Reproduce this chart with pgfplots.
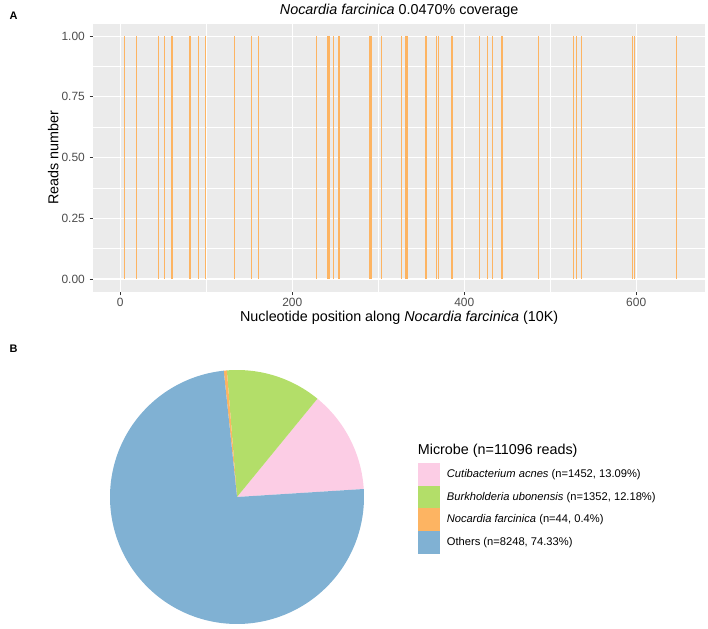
\documentclass[border=0pt]{standalone}
\usepackage{fontspec}
\setmainfont{Liberation Sans}
\usepackage{pgfplots}
\pgfplotsset{compat=1.18}
\definecolor{setorange}{HTML}{FDB462}
\definecolor{setpink}{HTML}{FCCDE5}
\definecolor{setgreen}{HTML}{B3DE69}
\definecolor{setblue}{HTML}{80B1D3}
\definecolor{panelbg}{HTML}{EBEBEB}
\definecolor{grey30}{HTML}{4D4D4D}
\definecolor{grey20}{HTML}{333333}
\newcommand{\fs}[1]{\fontsize{#1}{#1}\selectfont}
\begin{document}
\begin{tikzpicture}
\path[use as bounding box] (0,0) rectangle (708bp,629bp);
% ---------------- Panel A ----------------
\begin{axis}[
  at={(93.3bp,337.3bp)}, anchor=south west,
  scale only axis, width=611.7bp, height=267.7bp,
  xmin=-31.4, xmax=680, ymin=-0.052, ymax=1.05,
  axis background/.style={fill=panelbg},
  axis line style={draw=none},
  xtick={0,200,400,600}, xticklabels={0,200,400,600},
  minor xtick={100,300,500},
  ytick={0,0.25,0.5,0.75,1}, yticklabels={0.00,0.25,0.50,0.75,1.00},
  minor ytick={0.125,0.375,0.625,0.875},
  grid=both,
  major grid style={white, line width=1.2bp},
  minor grid style={white, line width=0.6bp},
  tick align=outside, major tick length=3.8bp, minor tick length=0pt,
  major tick style={draw=grey20, line width=1bp},
  xtick pos=bottom, ytick pos=left,
  tick label style={font=\fs{12}, text=grey30},
  xticklabel style={anchor=north, inner sep=0pt, yshift=-2.7bp},
  yticklabel style={anchor=east, inner sep=0pt, xshift=-4.5bp},
  /pgf/number format/assume math mode=true,
  every axis title shift=0pt,
  title={\textit{Nocardia farcinica} 0.0470\% coverage},
  title style={at={(axis description cs:0.5,1.0355)}, anchor=base, font=\fs{14.4}, inner sep=0pt},
  xlabel={Nucleotide position along \textit{Nocardia farcinica} (10K)},
  xlabel style={at={(axis description cs:0.5,-0.112)}, anchor=base, font=\fs{14.4}, inner sep=0pt},
  ylabel={Reads number},
  ylabel style={at={(axis description cs:-0.0654,0.5)}, anchor=center, font=\fs{14.4}, inner sep=0pt},
]
\addplot[ycomb, draw=setorange, line width=1.25bp, mark=none] coordinates {
(4.7,1) (18.6,1) (44.2,1) (51.2,1) (60.1,1) (80.2,1) (81.9,1) (90.7,1) (98.8,1)
(133,1) (152.3,1) (160.5,1) (227.9,1) (241.2,1) (242.7,1) (248.1,1) (254.3,1)
(290.3,1) (291.9,1) (303.5,1) (326.8,1) (332.2,1) (333.7,1) (355.5,1) (367.9,1)
(370.2,1) (385.7,1) (417.5,1) (427.2,1) (433,1) (443.8,1) (486,1) (526.8,1)
(530.7,1) (536.5,1) (595.8,1) (597.7,1) (647,1)
};
\end{axis}
\node[font=\bfseries\fs{11}] at (13.7bp,613bp) {A};
\node[font=\bfseries\fs{11}] at (13.7bp,280bp) {B};
% ---------------- Panel B ----------------
\pgfmathsetmacro\tot{11096}
\pgfmathsetmacro\aO{96.0}
\pgfmathsetmacro\aG{\aO-44/\tot*360}
\pgfmathsetmacro\aP{\aG-1352/\tot*360}
\pgfmathsetmacro\aB{\aP-1452/\tot*360}
\pgfmathsetmacro\aE{\aO-360}
\begin{axis}[
  at={(237bp,132bp)}, anchor=center,
  scale only axis, width=254bp, height=254bp,
  xmin=-1, xmax=1, ymin=-1, ymax=1,
  hide axis,
  legend style={at={(1.211,0.635)}, anchor=north west, draw=none, fill=none,
    inner sep=0pt, row sep=0pt, column sep=4.5bp, font=\fs{11.2}},
  legend cell align=left,
  legend image code/.code={\fill[#1] (0bp,-11.35bp) rectangle (22.6bp,11.35bp);},
]
\addplot[fill=setpink, draw=none, domain=\aB:\aP, samples=60] ({cos(x)},{sin(x)}) -- (0,0) -- cycle;
\addlegendentry{\textit{Cutibacterium acnes} (n=1452, 13.09\%)}
\addplot[fill=setgreen, draw=none, domain=\aP:\aG, samples=60] ({cos(x)},{sin(x)}) -- (0,0) -- cycle;
\addlegendentry{\textit{Burkholderia ubonensis} (n=1352, 12.18\%)}
\addplot[fill=setorange, draw=none, domain=\aG:\aO, samples=5] ({cos(x)},{sin(x)}) -- (0,0) -- cycle;
\addlegendentry{\textit{Nocardia farcinica} (n=44, 0.4\%)}
\addplot[fill=setblue, draw=none, domain=\aE:\aB, samples=200] ({cos(x)},{sin(x)}) -- (0,0) -- cycle;
\addlegendentry{Others (n=8248, 74.33\%)}
\end{axis}
\node[anchor=base west, font=\fs{14.4}, inner sep=0pt] at (417.7bp,174.8bp) {Microbe (n=11096 reads)};
\end{tikzpicture}
\end{document}
